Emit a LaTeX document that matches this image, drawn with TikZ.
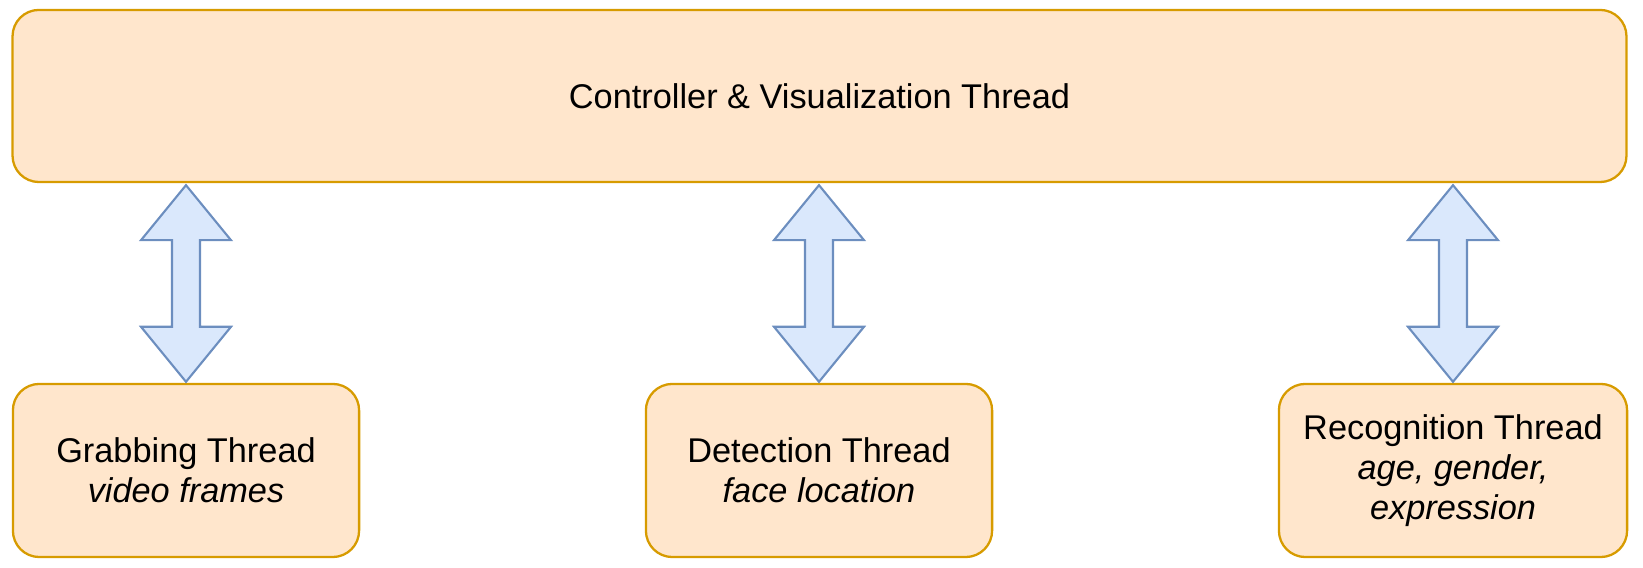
\documentclass[tikz,border=0pt]{standalone}
\usepackage{fontspec}
\setmainfont{Liberation Sans}
\usepackage{tikz}
\usetikzlibrary{arrows,shapes,calc}
\usetikzlibrary{positioning}
\definecolor{threadfill}{HTML}{FFE6CC}
\definecolor{threaddraw}{HTML}{D79B00}
\definecolor{linkfill}{HTML}{DAE8FC}
\definecolor{linkdraw}{HTML}{6C8EBF}
\tikzstyle{thread} =
  [rectangle, draw=threaddraw, fill=threadfill, line width=0.65pt,
   text centered, align=center, rounded corners=7.5pt,
   font=\fontsize{9.76}{11.4}\selectfont]
\tikzstyle{link}=[draw=linkdraw, fill=linkfill, line width=0.6pt, line join=miter]
% two-headed block arrow from the top tip #1 to the bottom tip #2
\newcommand{\dblarrow}[2]{%
  \path (#1) ++(0,-2) coordinate (t) (#2) ++(0,1) coordinate (b);
  \draw [link] (t) -- ($(t)+(45,-55)$) -- ($(t)+(14,-55)$) -- ($(b)+(14,55)$)
    -- ($(b)+(45,55)$) -- (b) -- ($(b)+(-45,55)$) -- ($(b)+(-14,55)$)
    -- ($(t)+(-14,-55)$) -- ($(t)+(-45,-55)$) -- cycle;}
\begin{document}
\begin{tikzpicture}[x=0.01cm, y=0.01cm]
  \useasboundingbox (0,0) rectangle (1643,568);
  \node [thread, minimum width=16.13cm, minimum height=1.72cm] (ctl) at (819.5,472)
    {Controller \& Visualization Thread};
  \node [thread, minimum width=3.46cm, minimum height=1.73cm] (grab) at (186,97.5)
    {Grabbing Thread\\\textit{video frames}};
  \node [thread, minimum width=3.46cm, minimum height=1.73cm] (det) at (819,97.5)
    {Detection Thread\\\textit{face location}};
  \node [thread, minimum width=3.48cm, minimum height=1.73cm] (rec) at (1453,97.5)
    {Recognition Thread\\\textit{age, gender,}\\\textit{expression}};

  \dblarrow{ctl.south -| grab.north}{grab.north}
  \dblarrow{ctl.south -| det.north}{det.north}
  \dblarrow{ctl.south -| rec.north}{rec.north}
\end{tikzpicture}
\end{document}
